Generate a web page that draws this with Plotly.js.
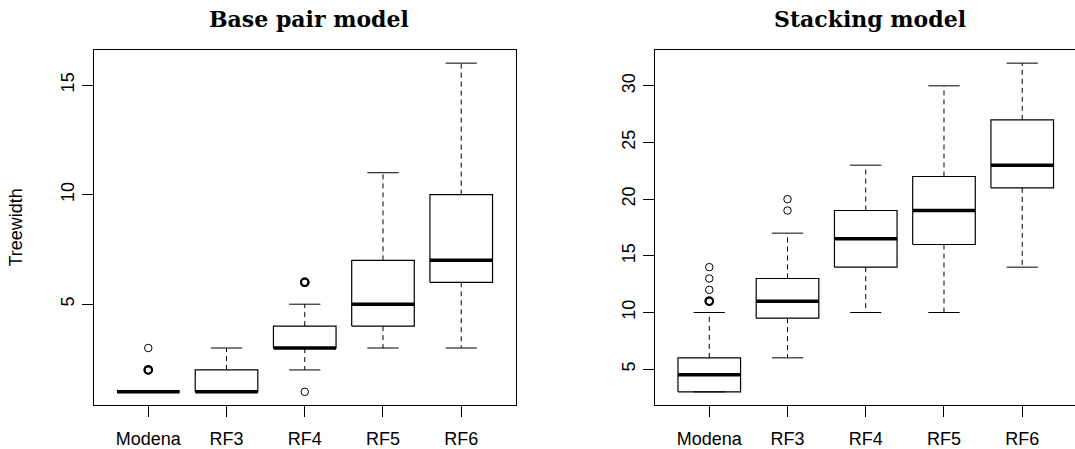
<!DOCTYPE html>
<html><head><meta charset="utf-8">
<script src="https://cdn.plot.ly/plotly-3.0.1.min.js"></script>
<style>html,body{margin:0;padding:0;overflow:hidden;background:#fff}#chart{width:1080px;height:449px}</style>
</head><body><div id="chart"></div>
<script>
const categories = ["Modena","RF3","RF4","RF5","RF6"];
// Base pair model
const bpLower  = [1, 1, 2, 3, 3];
const bpQ1     = [1, 1, 3, 4, 6];
const bpMedian = [1, 1, 3, 5, 7];
const bpQ3     = [1, 2, 4, 7, 10];
const bpUpper  = [1, 3, 5, 11, 16];
const bpOutlierCat = [0, 0, 0, 2, 2, 2];
const bpOutlierVal = [2, 2, 3, 6, 6, 1];
// Stacking model
const stLower  = [3, 6, 10, 10, 14];
const stQ1     = [3, 9.5, 14, 16, 21];
const stMedian = [4.5, 11, 16.5, 19, 23];
const stQ3     = [6, 13, 19, 22, 27];
const stUpper  = [10, 17, 23, 30, 32];
const stOutlierCat = [0, 0, 0, 0, 0, 1, 1];
const stOutlierVal = [11, 11, 12, 13, 14, 19, 20];
const yTicksBp = [5, 10, 15];
const yTicksSt = [5, 10, 15, 20, 25, 30];
const titles = ["Base pair model", "Stacking model"];
const yTitle = "Treewidth";

const BW = 0.4, SW = 0.2;
function panel(lower, q1, med, q3, upper, oc, ov, xa, ya) {
  const bx=[],by=[],mx=[],my=[],wx=[],wy=[],sx=[],sy=[];
  for (let i=0;i<categories.length;i++){
    const c=i+1;
    bx.push(c-BW,c+BW,c+BW,c-BW,c-BW,null); by.push(q1[i],q1[i],q3[i],q3[i],q1[i],null);
    mx.push(c-BW,c+BW,null); my.push(med[i],med[i],null);
    wx.push(c,c,null,c,c,null); wy.push(q3[i],upper[i],null,q1[i],lower[i],null);
    sx.push(c-SW,c+SW,null,c-SW,c+SW,null); sy.push(upper[i],upper[i],null,lower[i],lower[i],null);
  }
  // overlapping outliers drawn heavier, as overlapping open circles appear in the reference
  const counts={};
  oc.forEach((k,j)=>{const key=k+'_'+ov[j];counts[key]=(counts[key]||0)+1;});
  const lw=oc.map((k,j)=>counts[k+'_'+ov[j]]>1?2:1);
  const base={type:'scatter',mode:'lines',xaxis:xa,yaxis:ya,hoverinfo:'skip',showlegend:false,connectgaps:false};
  return [
    Object.assign({},base,{x:wx,y:wy,line:{color:'#000',width:1,dash:'5px,4px'}}),
    Object.assign({},base,{x:sx,y:sy,line:{color:'#000',width:1}}),
    Object.assign({},base,{x:bx,y:by,line:{color:'#000',width:1.2},fill:'none'}),
    Object.assign({},base,{x:mx,y:my,line:{color:'#000',width:3.5}}),
    {type:'scatter',mode:'markers',xaxis:xa,yaxis:ya,hoverinfo:'skip',showlegend:false,
     x:oc.map(k=>k+1),y:ov,marker:{symbol:'circle-open',size:7.5,color:'#000',line:{width:lw,color:'#000'}}}
  ];
}
const data = [].concat(
  panel(bpLower,bpQ1,bpMedian,bpQ3,bpUpper,bpOutlierCat,bpOutlierVal,'x','y'),
  panel(stLower,stQ1,stMedian,stQ3,stUpper,stOutlierCat,stOutlierVal,'x2','y2')
);
const W=1080,H=449;
const tf={family:'Liberation Sans, Arial, sans-serif',size:18,color:'#000'};
function xax(dom,anchor){return {domain:dom,anchor:anchor,range:[0.3,5.7],tickmode:'array',tickvals:[1,2,3,4,5],ticktext:categories,
  ticks:'outside',ticklen:11,tickwidth:1,tickcolor:'#000',showline:true,mirror:true,linecolor:'#000',linewidth:1,ticklabelstandoff:6,
  showgrid:false,zeroline:false,tickfont:tf,fixedrange:true};}
function yax(dom,anchor,range,tv){return {domain:dom,anchor:anchor,range:range,tickmode:'array',tickvals:tv,ticktext:tv.map(String),
  tickangle:-90,ticks:'outside',ticklen:11,tickwidth:1,tickcolor:'#000',showline:true,mirror:true,linecolor:'#000',linewidth:1,
  showgrid:false,zeroline:false,tickfont:tf,fixedrange:true};}
const yd=[44/H,399/H];
const x1d=[93.5/W,516/W], x2d=[654.5/W,1077/W];
const layout={width:W,height:H,margin:{l:0,r:0,t:0,b:0},paper_bgcolor:'#fff',plot_bgcolor:'#fff',showlegend:false,hovermode:false,
  xaxis:xax(x1d,'y'), yaxis:yax(yd,'x',[0.4,16.6],yTicksBp),
  xaxis2:xax(x2d,'y2'), yaxis2:yax(yd,'x2',[1.84,33.16],yTicksSt),
  annotations:[
    {text:'<b>'+titles[0]+'</b>',xref:'paper',yref:'paper',x:(x1d[0]+x1d[1])/2+4/W,y:1-19/H,xanchor:'center',yanchor:'middle',showarrow:false,
     font:{family:'DejaVu Serif, serif',size:22,color:'#000'}},
    {text:'<b>'+titles[1]+'</b>',xref:'paper',yref:'paper',x:(x2d[0]+x2d[1])/2+4/W,y:1-19/H,xanchor:'center',yanchor:'middle',showarrow:false,
     font:{family:'DejaVu Serif, serif',size:22,color:'#000'}},
    {text:yTitle,xref:'paper',yref:'paper',x:15/W,y:(yd[0]+yd[1])/2,xanchor:'center',yanchor:'middle',textangle:-90,showarrow:false,font:tf}
  ]
};
Plotly.newPlot('chart',data,layout,{staticPlot:true,displayModeBar:false});
</script></body></html>
